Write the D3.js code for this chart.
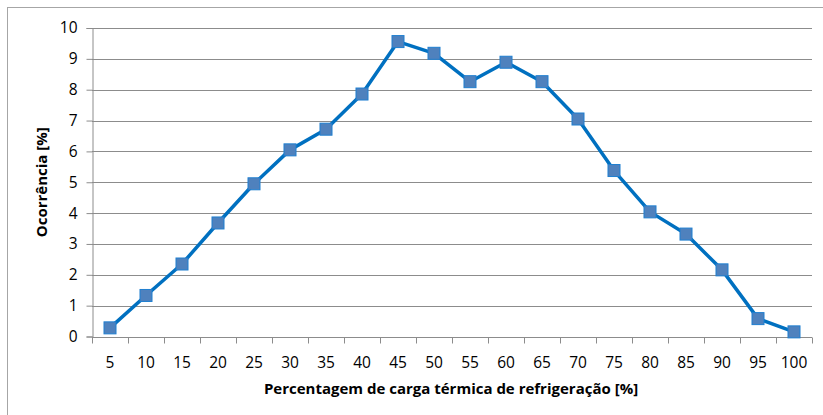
<!DOCTYPE html>
<html>
<head>
<meta charset="utf-8">
<script src="https://cdn.jsdelivr.net/npm/d3@7"></script>
<style>
	body { margin: 0; background: #fff; }
	svg { display: block; font-family: "Open Sans", Lato, sans-serif; }
</style>
</head>
<body>
<script>
var categories = [5, 10, 15, 20, 25, 30, 35, 40, 45, 50, 55, 60, 65, 70, 75, 80, 85, 90, 95, 100];
var ocorrencia = [0.28, 1.33, 2.35, 3.68, 4.95, 6.05, 6.72, 7.86, 9.56, 9.18, 8.26, 8.89, 8.26, 7.05, 5.38, 4.04, 3.32, 2.16, 0.58, 0.15];
var yTicks = [0, 1, 2, 3, 4, 5, 6, 7, 8, 9, 10];

var width = 823, height = 415;
var margin = {top: 28, right: 11, bottom: 78, left: 92};
var font = '"Open Sans", Lato, sans-serif';

var svg = d3.select('body').append('svg')
	.attr('width', width)
	.attr('height', height);

// chart frame (only left and top edges visible)
svg.append('rect')
	.attr('x', 7.5)
	.attr('y', 7.5)
	.attr('width', width + 10)
	.attr('height', height + 10)
	.attr('fill', 'none')
	.attr('stroke', '#a6a6a6');

var x = d3.scaleBand()
	.domain(categories)
	.range([margin.left, width - margin.right]);

var y = d3.scaleLinear()
	.domain([0, 10])
	.range([height - margin.bottom - 0.5, margin.top]);

// gridlines
svg.append('g')
	.selectAll('line')
	.data(yTicks)
	.join('line')
	.attr('x1', margin.left)
	.attr('x2', width - margin.right)
	.attr('y1', function(d){ return Math.round(y(d)) + .5; })
	.attr('y2', function(d){ return Math.round(y(d)) + .5; })
	.attr('stroke', '#8c8c8c')
	.attr('stroke-width', 1);

// y axis
var yAxis = svg.append('g')
	.attr('transform', 'translate(' + (margin.left + .5) + ',0)')
	.call(d3.axisLeft(y).tickValues(yTicks).tickSize(6).tickPadding(9));
yAxis.select('.domain').attr('stroke', '#8c8c8c');
yAxis.selectAll('.tick line').attr('stroke', '#8c8c8c');
yAxis.selectAll('.tick text')
	.attr('font-size', 15.5)
	.attr('fill', '#000')
	.style('font-family', font);

// x axis with ticks between categories
var xAxis = svg.append('g')
	.attr('transform', 'translate(0,' + (Math.round(y(0)) + .5) + ')');
xAxis.append('line')
	.attr('x1', margin.left)
	.attr('x2', width - margin.right)
	.attr('stroke', '#8c8c8c');
var bounds = categories.map(function(c){ return x(c); }).concat([x(categories[categories.length - 1]) + x.bandwidth()]);
xAxis.selectAll('line.tk')
	.data(bounds)
	.join('line')
	.attr('class', 'tk')
	.attr('x1', function(d){ return Math.round(d) + .5; })
	.attr('x2', function(d){ return Math.round(d) + .5; })
	.attr('y1', 0)
	.attr('y2', 6)
	.attr('stroke', '#8c8c8c');
xAxis.selectAll('text')
	.data(categories)
	.join('text')
	.attr('x', function(d){ return x(d) + x.bandwidth() / 2; })
	.attr('y', 30)
	.attr('text-anchor', 'middle')
	.attr('font-size', 15.5)
	.attr('fill', '#000')
	.text(function(d){ return d; });

// axis titles
svg.append('text')
	.attr('x', 451)
	.attr('y', 394)
	.attr('text-anchor', 'middle')
	.attr('font-size', 15)
	.attr('font-weight', 'bold')
	.text('Percentagem de carga térmica de refrigeração [%]');

svg.append('text')
	.attr('transform', 'translate(47,' + ((margin.top + y(0)) / 2) + ') rotate(-90)')
	.attr('text-anchor', 'middle')
	.attr('font-size', 15)
	.attr('font-weight', 'bold')
	.text('Ocorrência [%]');

// line series
var line = d3.line()
	.x(function(d, i){ return x(categories[i]) + x.bandwidth() / 2; })
	.y(function(d){ return y(d); });

svg.append('path')
	.datum(ocorrencia)
	.attr('d', line)
	.attr('fill', 'none')
	.attr('stroke', '#0070c0')
	.attr('stroke-width', 3.5)
	.attr('stroke-linejoin', 'round');

var ms = 12;
svg.append('g')
	.selectAll('rect')
	.data(ocorrencia)
	.join('rect')
	.attr('x', function(d, i){ return x(categories[i]) + x.bandwidth() / 2 - ms / 2; })
	.attr('y', function(d){ return y(d) - ms / 2; })
	.attr('width', ms)
	.attr('height', ms)
	.attr('fill', '#4f81bd')
	.attr('stroke', '#1f7fd0')
	.attr('stroke-width', 1);
</script>
</body>
</html>
